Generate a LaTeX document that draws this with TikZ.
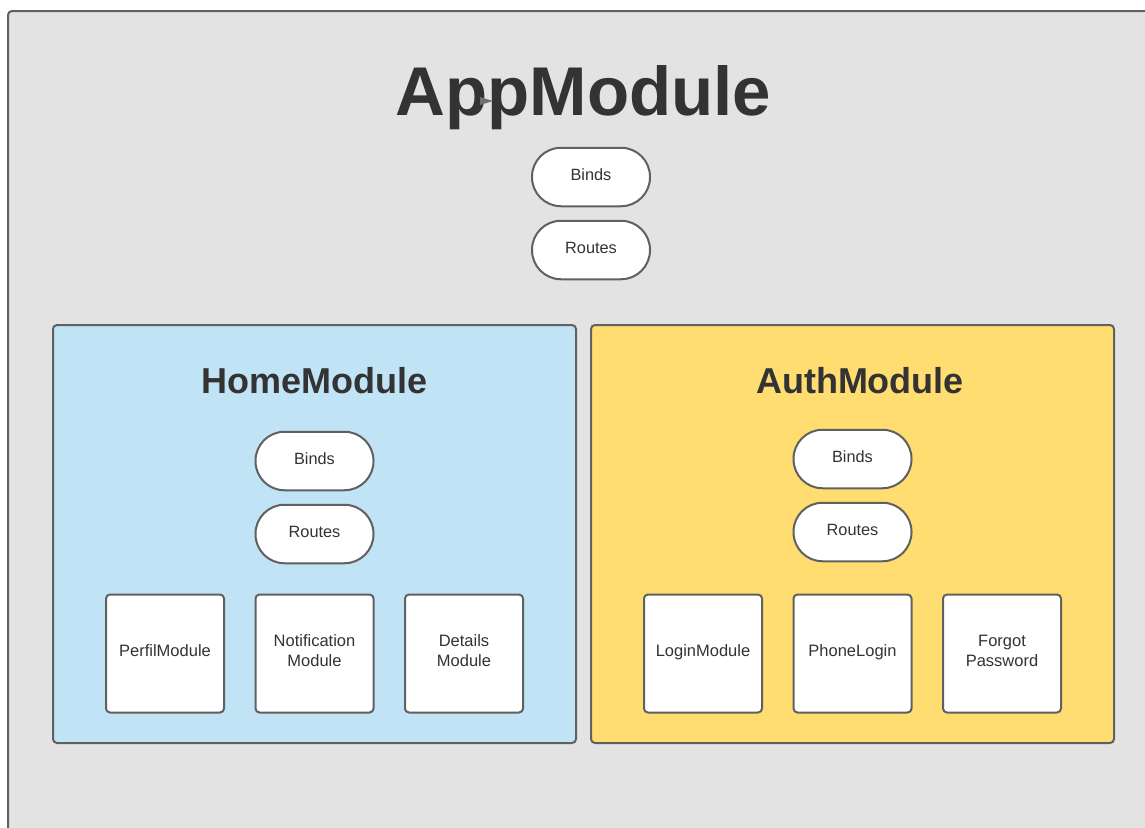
\documentclass[tikz,border=0pt]{standalone}
\usepackage{fontspec}
\setmainfont{Liberation Sans}
\usetikzlibrary{positioning}
\definecolor{panelgray}{RGB}{227,227,227}
\definecolor{edgegray}{RGB}{96,96,96}
\definecolor{inkgray}{RGB}{51,51,51}
\definecolor{homeblue}{RGB}{193,227,246}
\definecolor{authyellow}{RGB}{255,221,113}
\tikzset{
  x=1pt, y=-1pt,
  frame/.style={draw=edgegray, line width=2pt, rounded corners=4pt},
  pill/.style={draw=edgegray, line width=2pt, fill=white, rounded corners=29pt,
    minimum width=118pt, minimum height=58.5pt, inner sep=0pt},
  pilltext/.style={inner sep=0pt, font=\fontsize{16.3}{19}\selectfont, text=inkgray},
  modbox/.style={draw=edgegray, line width=2pt, fill=white, rounded corners=4pt,
    minimum width=118pt, minimum height=118pt, inner sep=0pt},
  modtext/.style={inner sep=0pt, align=center,
    font=\fontsize{16.5}{20}\selectfont, text=inkgray},
  bigtitle/.style={font=\fontsize{69}{80}\selectfont\bfseries, text=inkgray, inner sep=0pt},
  subtitle/.style={font=\fontsize{36}{42}\selectfont\bfseries, text=inkgray, inner sep=0pt},
}
\begin{document}
\begin{tikzpicture}
\useasboundingbox (0,0) rectangle (1145,827);
\fill[white] (0,0) rectangle (1145,827);
% outer AppModule container, running off the right and bottom edges
\begin{scope}
\clip (0,0) rectangle (1145,827);
\draw[frame, fill=panelgray] (8,11) rectangle (1170,850);
\end{scope}
\node[bigtitle] (app) at (583.5,98) {AppModule};
\fill[edgegray!90] (480,97) -- (493,101) -- (480,105) -- cycle;
\node[pill] (appbinds) at (591,177) {};
\node[pilltext] (appbindst) at ([yshift=2pt]appbinds.center) {Binds};
\node[pill] (approutes) at (591,250) {};
\node[pilltext] (approutest) at ([yshift=2pt]approutes.center) {Routes};

% HomeModule
\draw[frame, fill=homeblue] (53,325) rectangle (576,743);
\node[subtitle] (home) at (314.5,381) {HomeModule};
\node[pill] (homebinds) at (314.5,461) {};
\node[pilltext] (homebindst) at ([yshift=2pt]homebinds.center) {Binds};
\node[pill] (homeroutes) at (314.5,534) {};
\node[pilltext] (homeroutest) at ([yshift=2pt]homeroutes.center) {Routes};
\node[modbox] (perfil) at (165,653.5) {};
\node[modtext, anchor=base] (perfilt) at ([yshift=-3pt]perfil.center) {PerfilModule};
\node[modbox] (notif) at (314.5,653.5) {};
\node[modtext] (notift) at ([yshift=3pt]notif.center) {Notification\\Module};
\node[modbox] (details) at (464,653.5) {};
\node[modtext] (detailst) at ([yshift=3pt]details.center) {Details\\Module};

% AuthModule
\draw[frame, fill=authyellow] (591,325) rectangle (1114,743);
\node[subtitle] (auth) at (860,381) {AuthModule};
\node[pill] (authbinds) at (852.5,459) {};
\node[pilltext] (authbindst) at ([yshift=2pt]authbinds.center) {Binds};
\node[pill] (authroutes) at (852.5,532) {};
\node[pilltext] (authroutest) at ([yshift=2pt]authroutes.center) {Routes};
\node[modbox] (login) at (703,653.5) {};
\node[modtext, anchor=base] (logint) at ([yshift=-3pt]login.center) {LoginModule};
\node[modbox] (phone) at (852.5,653.5) {};
\node[modtext, anchor=base] (phonet) at ([yshift=-3pt]phone.center) {PhoneLogin};
\node[modbox] (forgot) at (1002,653.5) {};
\node[modtext] (forgott) at ([yshift=3pt]forgot.center) {Forgot\\Password};
\end{tikzpicture}
\end{document}
